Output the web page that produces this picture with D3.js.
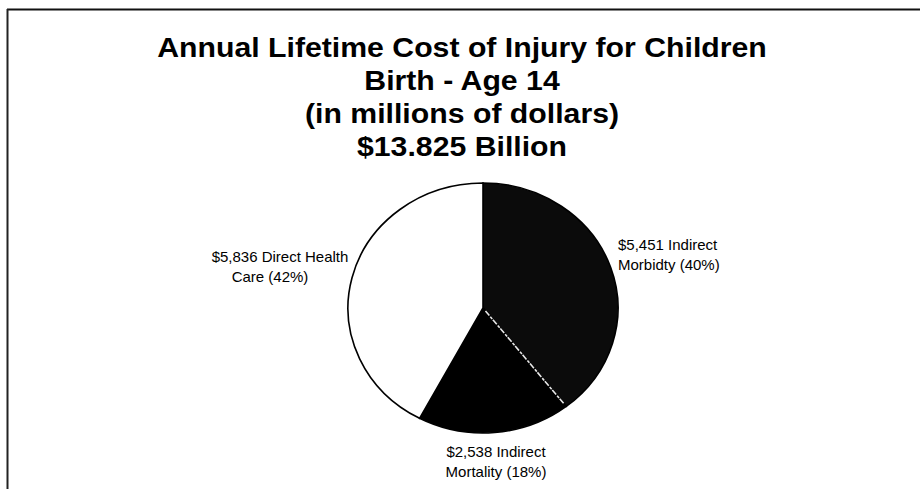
<!DOCTYPE html>
<html>
<head>
<meta charset="utf-8">
<script src="https://cdn.jsdelivr.net/npm/d3@7"></script>
<style>
  html, body { margin: 0; padding: 0; background: #fff; }
  svg { display: block; }
</style>
</head>
<body>
<svg id="chart" width="920" height="489"></svg>
<script>
// Cost components, in millions of dollars, clockwise from 12 o'clock
const categories = ["Indirect Morbidty", "Indirect Mortality", "Direct Health Care"];
const values = [5451, 2538, 5836];
const percents = ["40%", "18%", "42%"];
const sliceColors = ["#0b0b0b", "#000000", "#ffffff"];
const labelLines = [
  ["$5,451 Indirect", "Morbidty (40%)"],
  ["$2,538 Indirect", "Mortality (18%)"],
  ["$5,836 Direct Health", "Care (42%)"]
];
const titleLines = [
  "Annual Lifetime Cost of Injury for Children",
  "Birth - Age 14",
  "(in millions of dollars)",
  "$13.825 Billion"
];

const svg = d3.select("#chart");
const W = 920, H = 489;

// Frame: top and left rules
svg.append("line").attr("x1", 7).attr("y1", 9.5).attr("x2", W).attr("y2", 9.5)
  .attr("stroke", "#111").attr("stroke-width", 2);
svg.append("line").attr("x1", 7.5).attr("y1", 9).attr("x2", 7.5).attr("y2", H)
  .attr("stroke", "#222").attr("stroke-width", 2);

// Title block (slightly wide-set lettering)
const titleX = 462, stretch = 1.12;
const title = svg.append("g")
  .attr("transform", `translate(${titleX},0) scale(${stretch},1)`)
  .attr("font-family", "'Liberation Sans', Arial, sans-serif")
  .attr("font-weight", "bold")
  .attr("font-size", 27)
  .attr("fill", "#000")
  .attr("text-anchor", "middle");
title.selectAll("text").data(titleLines).join("text")
  .attr("x", 0)
  .attr("y", (d, i) => 57 + i * 33)
  .text(d => d);

// Pie (slightly oval)
const cx = 483, cy = 308, rx = 135, ry = 125;
const pie = d3.pie().sort(null).value(d => d)(values);
const arc = d3.arc().innerRadius(0).outerRadius(rx);

const pieG = svg.append("g")
  .attr("transform", `translate(${cx},${cy}) scale(1,${ry / rx})`);

pieG.selectAll("path.slice").data(pie).join("path")
  .attr("class", "slice")
  .attr("d", arc)
  .attr("fill", (d, i) => sliceColors[i])
  .attr("stroke", "#000")
  .attr("stroke-width", 1.6)
  .attr("vector-effect", "non-scaling-stroke");

// Light divider between the two dark slices
const a = pie[0].endAngle;
pieG.append("line")
  .attr("x1", Math.sin(a) * 4).attr("y1", -Math.cos(a) * 4)
  .attr("x2", Math.sin(a) * (rx - 4)).attr("y2", -Math.cos(a) * (rx - 4))
  .attr("stroke", "#e8e8e8")
  .attr("stroke-width", 1.6)
  .attr("stroke-dasharray", "6 1.5 3 1")
  .attr("vector-effect", "non-scaling-stroke");

// Slice labels
const labelPos = [
  { x: 618, y: 250, anchor: "start", dx: [0, 0] },
  { x: 496, y: 457, anchor: "middle", dx: [0, 0] },
  { x: 280, y: 262, anchor: "middle", dx: [0, -10] }
];
const labels = svg.append("g")
  .attr("font-family", "'Liberation Sans', Arial, sans-serif")
  .attr("font-size", 15)
  .attr("fill", "#000");
labelLines.forEach((lines, i) => {
  const p = labelPos[i];
  const t = labels.append("text")
    .attr("x", p.x)
    .attr("y", p.y)
    .attr("text-anchor", p.anchor);
  lines.forEach((ln, j) => {
    t.append("tspan").attr("x", p.x + p.dx[j]).attr("dy", j === 0 ? 0 : 19.5).text(ln);
  });
});
</script>
</body>
</html>
